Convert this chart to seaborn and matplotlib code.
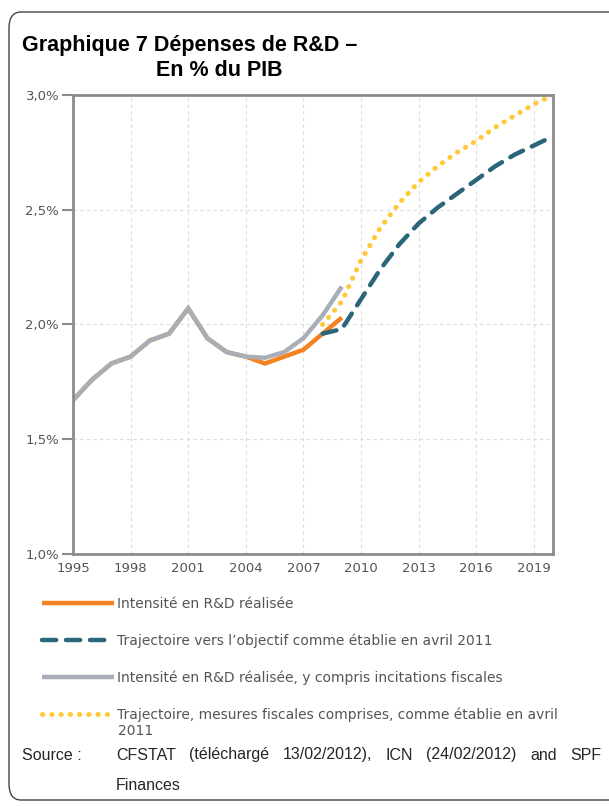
import matplotlib
matplotlib.use("Agg")
import matplotlib.pyplot as plt
import seaborn as sns
import numpy as np
from matplotlib.patches import FancyBboxPatch
from matplotlib.ticker import FuncFormatter

years_hist = list(range(1995, 2010))
rd_incl_fiscal = [1.67, 1.76, 1.83, 1.86, 1.93, 1.96, 2.07, 1.94, 1.88, 1.86, 1.855, 1.88, 1.94, 2.04, 2.165]
rd_realised = [1.67, 1.76, 1.83, 1.86, 1.93, 1.96, 2.07, 1.94, 1.88, 1.86, 1.83, 1.86, 1.89, 1.96, 2.03]
years_traj = list(range(2008, 2021))
traj_target = [1.96, 1.98, 2.11, 2.24, 2.35, 2.44, 2.51, 2.57, 2.63, 2.69, 2.74, 2.78, 2.82]
traj_fiscal = [2.00, 2.10, 2.28, 2.42, 2.53, 2.62, 2.69, 2.75, 2.80, 2.86, 2.91, 2.96, 3.00]

labels = ["Intensité en R&D réalisée",
          "Trajectoire vers l’objectif comme établie en avril 2011",
          "Intensité en R&D réalisée, y compris incitations fiscales",
          "Trajectoire, mesures fiscales comprises, comme établie en avril"]
label_wrap = "2011"
xticks = list(range(1995, 2020, 3))
yticks = [1.0, 1.5, 2.0, 2.5, 3.0]

c_orange = "#F58220"
c_teal = "#2B6579"
c_gray = "#A7AEB8"
c_yellow = "#FFC835"

sns.set_theme(style="white")
plt.rcParams['font.family'] = ['DejaVu Sans']

fig = plt.figure(figsize=(6.09, 8.07), dpi=100)
ax = fig.add_axes([73/609, 1-554/807, 480/609, 459/807])

sns.lineplot(x=years_hist, y=rd_realised, ax=ax, color=c_orange, lw=3.2, label=labels[0])
sns.lineplot(x=years_traj, y=traj_target, ax=ax, color=c_teal, lw=3.2, label=labels[1])
sns.lineplot(x=years_traj, y=traj_fiscal, ax=ax, color=c_yellow, lw=3.6, label=labels[3])
sns.lineplot(x=years_hist, y=rd_incl_fiscal, ax=ax, color=c_gray, lw=3.2, label=labels[2])
lines = ax.get_lines()
l_or, l_teal, l_yel, l_gray = lines[0], lines[1], lines[2], lines[3]
l_teal.set_linestyle((0, (3.2, 2.2)))
l_teal.set_dash_capstyle("round")
l_yel.set_linestyle((0, (0.05, 1.8)))
l_yel.set_dash_capstyle("round")
for l in (l_or, l_gray):
    l.set_solid_capstyle("butt")
    l.set_solid_joinstyle("miter")
ax.get_legend().remove()

ax.set_xlim(1995, 2020)
ax.set_ylim(1.0, 3.0)
ax.set_xticks(xticks)
ax.set_yticks(yticks)
ax.yaxis.set_major_formatter(FuncFormatter(lambda v, p: f"{v:.1f}%".replace(".", ",")))
ax.grid(True, color="#DDDDDD", linestyle=(0, (3, 3)), lw=0.8)
for s in ax.spines.values():
    s.set_color("#8C8C8C")
    s.set_linewidth(2)
ax.tick_params(axis="y", which="major", left=True, length=8, width=1.5, color="#8C8C8C",
               labelsize=9.5, labelcolor="#555555", pad=2)
ax.tick_params(axis="x", which="major", bottom=False, labelsize=9.5, labelcolor="#555555", pad=0)
ax.set_xlabel("")
ax.set_ylabel("")

# Title
fig.text(22/609, 1-45/807, "Graphique 7 Dépenses de R&D –", fontsize=15.5, fontweight="bold",
         family="Liberation Sans", ha="left", va="center", color="black")
fig.text(219/609, 1-70/807, "En % du PIB", fontsize=15.5, fontweight="bold",
         family="Liberation Sans", ha="center", va="center", color="black")

# Legend
handles = [l_or, l_teal, l_gray, l_yel]
leg = fig.legend(handles, labels, loc="upper left", bbox_to_anchor=(36/609, 1-591/807),
                 frameon=False, handlelength=5.2, handletextpad=0.2, labelspacing=1.62,
                 prop={"size": 10, "family": "DejaVu Sans"}, borderaxespad=0)
for t in leg.get_texts():
    t.set_color("#555555")
fig.text(118/609, 1-731/807, label_wrap, fontsize=10, family="DejaVu Sans", color="#555555",
         ha="left", va="center")

# Source (justified)
fs = 11.5
fig.text(22/609, 1-755/807, "Source :", fontsize=fs, family="Liberation Sans", va="center", ha="left")
words = ["CFSTAT", "(téléchargé", "13/02/2012),", "ICN", "(24/02/2012)", "and", "SPF"]
fig.canvas.draw()
r = fig.canvas.get_renderer()
tmp = [fig.text(0, 0, w, fontsize=fs, family="Liberation Sans") for w in words]
widths = [t.get_window_extent(r).width for t in tmp]
for t in tmp:
    t.remove()
x0, x1 = 116, 601
gap = (x1 - x0 - sum(widths)) / (len(words) - 1)
x = x0
for w, wd in zip(words, widths):
    fig.text(x/609, 1-755/807, w, fontsize=fs, family="Liberation Sans", va="center", ha="left")
    x += wd + gap
fig.text(116/609, 1-785/807, "Finances", fontsize=fs, family="Liberation Sans", va="center", ha="left")

# Frame
box = FancyBboxPatch((9/609, 1-800/807), 640/609, 788/807,
                     boxstyle="round,pad=0,rounding_size=0.02", transform=fig.transFigure,
                     fill=False, edgecolor="#444444", lw=1.0, clip_on=False)
fig.add_artist(box)

fig.savefig("out.png", dpi=100)
